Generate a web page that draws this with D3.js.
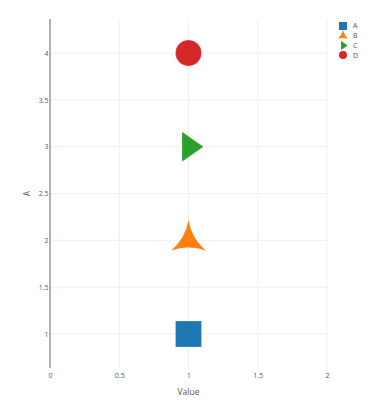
<!DOCTYPE html>
<html>
<head>
<meta charset="utf-8">
<script src="https://cdn.jsdelivr.net/npm/d3@7"></script>
<style>
  body { margin: 0; background: #fff; }
  svg { display: block; font-family: "Open Sans", Arial, sans-serif; }
</style>
</head>
<body>
<div id="chart"></div>
<script>
'use strict';

var names = ['A', 'B', 'C', 'D'];
var xValues = [1, 1, 1, 1];
var yValues = [1, 2, 3, 4];
var symbols = ['square', 'star-triangle-up', 'triangle-right', 'circle'];
var colors = ['#1f77b4', '#ff7f0e', '#2ca02c', '#d62728'];
var xTicks = [0, 0.5, 1, 1.5, 2];
var yTicks = [1, 1.5, 2, 2.5, 3, 3.5, 4];

var width = 382, height = 400;
var plot = {left: 50, right: 327, top: 19, bottom: 368};
var textColor = '#555';

// plotly-like marker paths, r = half of marker size
var symbolPath = function(sym, r) {
    if (sym === 'square') {
        return 'M' + r + ',' + r + 'H-' + r + 'V-' + r + 'H' + r + 'Z';
    }
    if (sym === 'circle') {
        return 'M' + r + ',0A' + r + ',' + r + ' 0 1,1 0,-' + r +
            'A' + r + ',' + r + ' 0 0,1 ' + r + ',0Z';
    }
    if (sym === 'triangle-right') {
        var rt = r * 2 / Math.sqrt(3), r2 = r / 2;
        return 'M' + (-r2) + ',' + (-rt) + 'L' + rt + ',0L' + (-r2) + ',' + rt + 'Z';
    }
    // star-triangle-up
    var x = r * 1.35, y1 = r * 0.8, y2 = r * 1.6, rc = r * 4;
    var a = 'A' + rc + ',' + rc + ' 0 0 1 ';
    return 'M' + (-x) + ',' + y1 + a + x + ',' + y1 + a + '0,' + (-y2) + a + (-x) + ',' + y1 + 'Z';
};

var svg = d3.select('#chart').append('svg')
    .attr('width', width)
    .attr('height', height);

var x = d3.scaleLinear().domain([0, 2]).range([plot.left, plot.right]);
var y = d3.scaleLinear().domain([0.637, 4.363]).range([plot.bottom, plot.top]);

// grid
svg.append('g')
    .selectAll('line')
    .data(xTicks.filter(function(d) { return d !== 0; }))
    .join('line')
    .attr('x1', function(d) { return x(d); })
    .attr('x2', function(d) { return x(d); })
    .attr('y1', plot.top)
    .attr('y2', plot.bottom)
    .attr('stroke', '#eee')
    .attr('stroke-width', 1);

svg.append('g')
    .selectAll('line')
    .data(yTicks)
    .join('line')
    .attr('x1', plot.left)
    .attr('x2', plot.right)
    .attr('y1', function(d) { return y(d); })
    .attr('y2', function(d) { return y(d); })
    .attr('stroke', '#eee')
    .attr('stroke-width', 1);

// axes (labels only, no domain lines)
var xAxis = svg.append('g')
    .attr('transform', 'translate(0,' + plot.bottom + ')')
    .call(d3.axisBottom(x).tickValues(xTicks).tickSize(0).tickPadding(5)
        .tickFormat(function(d) { return String(d); }));
var yAxis = svg.append('g')
    .attr('transform', 'translate(' + plot.left + ',0)')
    .call(d3.axisLeft(y).tickValues(yTicks).tickSize(0).tickPadding(1.5)
        .tickFormat(function(d) { return String(d); }));

[xAxis, yAxis].forEach(function(g) {
    g.select('.domain').remove();
    g.selectAll('text')
        .attr('fill', textColor)
        .style('font-size', '7px')
        .style('font-family', '"Open Sans", Arial, sans-serif');
});

// zero line on x = 0
svg.append('line')
    .attr('x1', x(0)).attr('x2', x(0))
    .attr('y1', plot.top).attr('y2', plot.bottom)
    .attr('stroke', '#999')
    .attr('stroke-width', 1.5);

// axis titles
svg.append('text')
    .attr('x', x(1))
    .attr('y', 395)
    .attr('text-anchor', 'middle')
    .attr('fill', textColor)
    .style('font-size', '8.5px')
    .text('Value');

svg.append('text')
    .attr('transform', 'translate(29.5,' + ((plot.top + plot.bottom) / 2) + ') rotate(-90)')
    .attr('text-anchor', 'middle')
    .attr('fill', textColor)
    .style('font-size', '8.5px')
    .text('A');

// markers
svg.append('g')
    .selectAll('path')
    .data(names)
    .join('path')
    .attr('transform', function(d, i) {
        return 'translate(' + x(xValues[i]) + ',' + y(yValues[i]) + ')';
    })
    .attr('d', function(d, i) { return symbolPath(symbols[i], 13); })
    .attr('fill', function(d, i) { return colors[i]; })
    .attr('stroke', '#fff')
    .attr('stroke-opacity', 0.4)
    .attr('stroke-width', 0.5);

// legend
var legend = svg.append('g').attr('transform', 'translate(343,26)');
var item = legend.selectAll('g')
    .data(names)
    .join('g')
    .attr('transform', function(d, i) { return 'translate(0,' + (i * 9.7) + ')'; });

item.append('path')
    .attr('d', function(d, i) { return symbolPath(symbols[i], 4); })
    .attr('fill', function(d, i) { return colors[i]; });

item.append('text')
    .attr('x', 10)
    .attr('dy', '0.35em')
    .attr('fill', textColor)
    .style('font-size', '7px')
    .text(function(d) { return d; });
</script>
</body>
</html>
